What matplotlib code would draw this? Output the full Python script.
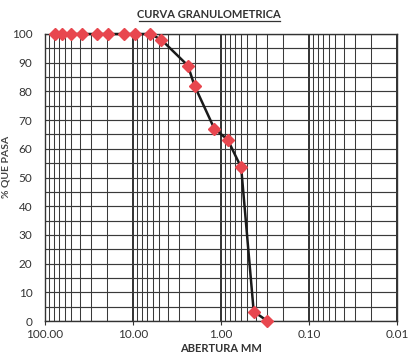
import matplotlib
matplotlib.use("Agg")
import matplotlib.pyplot as plt
from matplotlib.ticker import FixedLocator, LogLocator, NullFormatter

# Sieve openings (mm) and cumulative percent passing
abertura_mm = [76.2, 63.5, 50.8, 38.1, 25.4, 19.05, 12.7, 9.525, 6.35,
               4.76, 2.38, 2.00, 1.19, 0.84, 0.59, 0.425, 0.297]
pct_pasa = [100, 100, 100, 100, 100, 100, 100, 100, 100,
            98.0, 89.0, 82.0, 67.0, 63.2, 53.5, 3.3, 0.0]

x_ticks = [100, 10, 1, 0.1, 0.01]
x_tick_labels = ["100.00", "10.00", "1.00", "0.10", "0.01"]
y_ticks = list(range(0, 101, 10))

plt.rcParams['font.family'] = ['Lato', 'DejaVu Sans']

fig = plt.figure(figsize=(4.14, 3.62), dpi=100)
ax = fig.add_axes([45/414, 1-321/362, 352/414, 287/362])

ax.set_xscale('log')
ax.set_xlim(100, 0.01)
ax.set_ylim(0, 100)

# log grid: decades heavier, 2..9 subdivisions lighter
ax.xaxis.set_major_locator(FixedLocator(x_ticks))
ax.xaxis.set_minor_locator(LogLocator(base=10, subs=range(2, 10), numticks=20))
ax.xaxis.set_minor_formatter(NullFormatter())
ax.set_xticks(x_ticks)
ax.set_xticklabels(x_tick_labels)
ax.yaxis.set_major_locator(FixedLocator(y_ticks))
ax.yaxis.set_minor_locator(FixedLocator(list(range(5, 100, 10))))

ax.grid(which='major', axis='x', color='#222222', linewidth=1.3)
ax.grid(which='minor', axis='x', color='#3a3a3a', linewidth=0.75)
ax.grid(which='both', axis='y', color='#3a3a3a', linewidth=0.85)
ax.set_axisbelow(True)

for s in ax.spines.values():
    s.set_color('#333333')
    s.set_linewidth(1.0)

ax.tick_params(axis='x', which='major', length=3, color='#333333',
               labelsize=8.5, labelcolor='#333333', pad=3)
ax.tick_params(axis='x', which='minor', length=0)
ax.tick_params(axis='y', which='both', length=0, labelsize=8.5,
               labelcolor='#333333', pad=9)

ax.plot(abertura_mm, pct_pasa, color='#1a1a1a', linewidth=1.8,
        marker='D', markersize=6.3, markerfacecolor='#e8474f',
        markeredgecolor='#e8474f', zorder=5, clip_on=False)

ax.set_xlabel("ABERTURA MM", fontsize=8, fontweight='bold',
              color='#333333', labelpad=2)

fig.text(0.505, 1-14/362, "CURVA GRANULOMETRICA", ha='center', va='center',
         fontsize=8, fontweight='bold', color='#333333')
# underline the title
fig.add_artist(plt.Line2D([139/414, 280/414], [1-20.5/362, 1-20.5/362],
                          color='#333333', linewidth=0.9))

fig.text(6/414, 0.54, "% QUE PASA", rotation=90, ha='center', va='center',
         fontsize=7.5, fontweight='bold', color='#444444')

fig.savefig("out.png", dpi=100)
